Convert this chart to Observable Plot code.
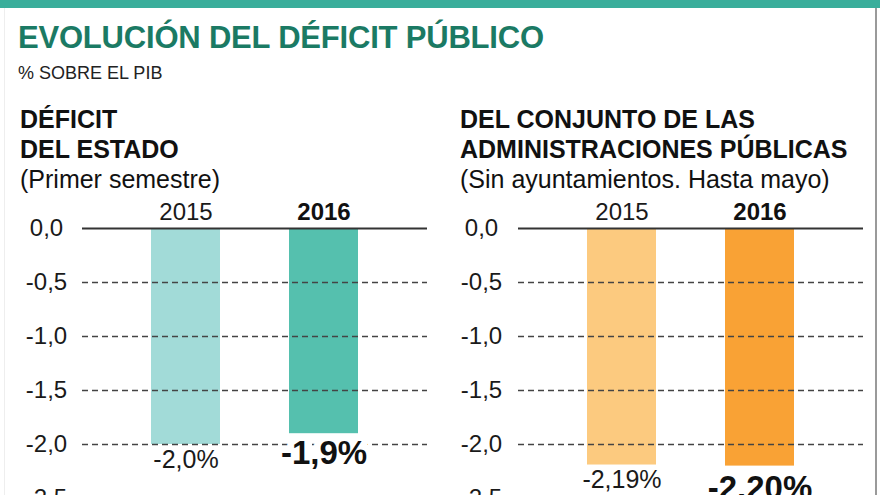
<!DOCTYPE html>
<html><head><meta charset="utf-8">
<script src="https://cdn.jsdelivr.net/npm/d3@7"></script>
<script src="https://cdn.jsdelivr.net/npm/@observablehq/plot@0.6"></script>
<style>
body{margin:0;background:#fff;}
#chart{position:relative;width:880px;height:495px;overflow:hidden;background:#fff;font-family:"Liberation Sans",Arial,Helvetica,sans-serif;color:#1a1a1a;}
.abs{position:absolute;white-space:nowrap;}
#topband{left:0;top:0;width:880px;height:8px;background:#3aae9b;}
#rborder{left:875px;top:8px;width:2px;height:487px;background:#9a9a9a;}
#lborder{left:4px;top:8px;width:1px;height:487px;background:#eeeeee;}
#title{left:18px;top:22px;font-size:31px;line-height:31px;font-weight:bold;color:#1b7a64;letter-spacing:-0.2px;}
#subtitle{left:18px;top:64px;font-size:18px;line-height:18px;color:#222;}
.head{top:104px;font-size:25px;line-height:30px;color:#111;}
.head b{font-weight:bold;}
#headL{left:20px;}
#headR{left:460px;}
.panel{top:195px;}
#panelL{left:0;}
#panelR{left:440px;}
</style></head>
<body>
<div id="chart">
  <div class="abs" id="topband"></div>
  <div class="abs" id="lborder"></div>
  <div class="abs" id="rborder"></div>
  <div class="abs" id="title">EVOLUCIÓN DEL DÉFICIT PÚBLICO</div>
  <div class="abs" id="subtitle">% SOBRE EL PIB</div>
  <div class="abs head" id="headL"><b>DÉFICIT</b><br><b>DEL ESTADO</b><br>(Primer semestre)</div>
  <div class="abs head" id="headR"><b>DEL CONJUNTO DE LAS</b><br><b>ADMINISTRACIONES PÚBLICAS</b><br>(Sin ayuntamientos. Hasta mayo)</div>
  <div class="abs panel" id="panelL"></div>
  <div class="abs panel" id="panelR"></div>
</div>
<script>
const years = ["2015", "2016"];
const estadoValues = [-2.0, -1.9];
const estadoLabels = ["-2,0%", "-1,9%"];
const administracionesValues = [-2.19, -2.20];
const administracionesLabels = ["-2,19%", "-2.20%"];
const yTicks = [0, -0.5, -1.0, -1.5, -2.0, -2.5];
const gridTicks = [-0.5, -1.0, -1.5, -2.0, -2.5];

const FONT = '"Liberation Sans", Arial, Helvetica, sans-serif';
const fmt = d => d.toFixed(1).replace(".", ",");

function panel({values, labels, colors, marginLeft, marginRight, tickPadding, dyReg, dyBold}) {
  const data = years.map((year, i) => ({year, value: values[i], label: labels[i], color: colors[i]}));
  return Plot.plot({
    width: 440,
    height: 303,
    marginTop: 33,
    marginBottom: 0,
    marginLeft,
    marginRight,
    x: {domain: years, padding: 0.5, axis: null},
    y: {domain: [-2.5, 0], axis: null},
    color: {type: "identity"},
    style: {fontFamily: FONT, color: "#1a1a1a", background: "transparent", overflow: "visible"},
    marks: [
      Plot.barY(data, {x: "year", y: "value", fill: "color"}),
      Plot.ruleY(gridTicks, {stroke: "#444", strokeWidth: 1.4, strokeDasharray: "6,4"}),
      Plot.ruleY([0], {stroke: "#333", strokeWidth: 1.8}),
      Plot.axisY({ticks: yTicks, anchor: "left", tickSize: 0, tickPadding, textAnchor: "middle",
        tickFormat: fmt, fontSize: 24, fill: "#1a1a1a", label: null}),
      Plot.text(data, {filter: d => d.year === years[0], x: "year", y: 0, text: "year",
        dy: -16, fontSize: 24, fill: "#1a1a1a"}),
      Plot.text(data, {filter: d => d.year === years[1], x: "year", y: 0, text: "year",
        dy: -16, fontSize: 24, fontWeight: "bold", fill: "#111"}),
      Plot.text(data, {filter: d => d.year === years[0], x: "year", y: "value", text: "label",
        dy: dyReg, fontSize: 25, fill: "#1a1a1a"}),
      Plot.text(data, {filter: d => d.year === years[1], x: "year", y: "value", text: "label",
        dy: dyBold, fontSize: 33, fontWeight: "bold", fill: "#111",
        stroke: "white", strokeWidth: 14, paintOrder: "stroke", strokeLinejoin: "round"})
    ]
  });
}

document.getElementById("panelL").append(panel({
  values: estadoValues, labels: estadoLabels,
  colors: ["#a2dbd8", "#55c0ae"],
  marginLeft: 82, marginRight: 13, tickPadding: 36, dyReg: 15, dyBold: 20
}));
document.getElementById("panelR").append(panel({
  values: administracionesValues, labels: administracionesLabels,
  colors: ["#fcca7f", "#f9a235"],
  marginLeft: 78, marginRight: 17, tickPadding: 37, dyReg: 15, dyBold: 22
}));
</script>
</body></html>
